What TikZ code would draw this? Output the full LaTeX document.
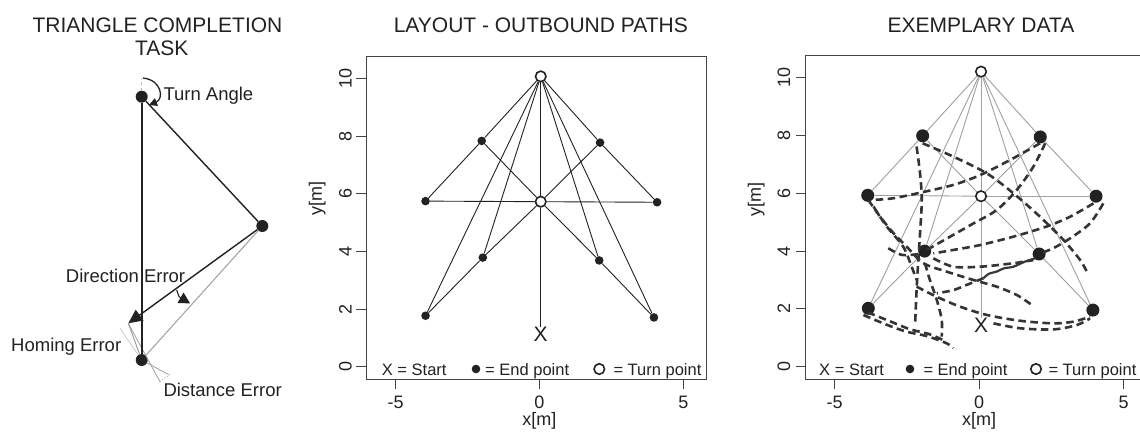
\documentclass[tikz,border=0pt]{standalone}
\usepackage{fontspec}
\setmainfont{Liberation Sans}
\usetikzlibrary{arrows.meta}
\definecolor{ink}{HTML}{222222}
\definecolor{gline}{HTML}{A0A0A0}
\begin{document}
\begin{tikzpicture}[x=1pt,y=-1pt,
  title/.style={font=\fontsize{21}{24}\selectfont, text=ink, inner sep=0pt, anchor=base},
  lbl/.style={font=\fontsize{18.5}{21}\selectfont, text=ink, inner sep=0pt, anchor=base west},
  tickx/.style={font=\fontsize{18}{20}\selectfont, text=ink, inner sep=0pt, anchor=base},
  ticky/.style={font=\fontsize{18}{20}\selectfont, text=ink, inner sep=0pt, anchor=base, rotate=90},
  axtitle/.style={font=\fontsize{18}{20}\selectfont, text=ink, inner sep=0pt},
  leg/.style={font=\fontsize{16.5}{19}\selectfont, text=ink, inner sep=0pt, anchor=base west},
  bigdot/.style={circle, fill=ink, inner sep=0pt, minimum size=12pt},
  enddot/.style={circle, fill=ink, inner sep=0pt, minimum size=8.6pt},
  enddotb/.style={circle, fill=ink, inner sep=0pt, minimum size=13pt},
  turnpt/.style={circle, draw=ink, fill=white, line width=1.6pt, inner sep=0pt, minimum size=10.5pt},
  startx/.style={font=\fontsize{21}{24}\selectfont, text=ink, inner sep=0pt},
  pedge/.style={draw=ink, line width=0.9pt},
  gedge/.style={draw=gline, line width=0.9pt},
  trail/.style={draw=ink!92, line width=2.6pt, dash pattern=on 7.5pt off 4.5pt},
  frame/.style={draw=ink!85, line width=0.9pt},
  tickmark/.style={draw=ink!85, line width=0.9pt},
]
\useasboundingbox (0,0) rectangle (1140,432);
\fill[white] (0,0) rectangle (1140,432);

% ---------------- Panel 1 ----------------
\node[title] (p1t) at (157.5,32.3) {TRIANGLE COMPLETION};
\node[title] (p1t2) at (161.7,55) {TASK};
\node[bigdot] (A) at (141.7,96.7) {};
\node[bigdot] (B) at (262.3,226) {};
\node[bigdot] (C) at (141.7,360) {};
\coordinate (D) at (128.3,323.3);
\coordinate (A0) at (141.7,78);
\coordinate (Dh) at (120,328.3);
\coordinate (Dh2) at (138.3,355);
\coordinate (E1) at (160,381.7);
\coordinate (E2) at (169.3,375);
\draw[gline, line width=1pt] (B) -- (C);
\draw[gline, line width=1pt] (D) -- (C);
\draw[gline!60, line width=0.7pt] (Dh) -- (Dh2);
\draw[gline, line width=0.8pt] (D) -- (E1);
\draw[gline, line width=0.8pt] (C) -- (E2);
\draw[gline, line width=0.8pt, dotted] (E1) -- (E2);
\draw[gline!70, line width=1pt, dashed] (A) -- (A0);
\draw[ink, line width=1.8pt] (A) -- (C);
\draw[ink, line width=1.4pt] (A) -- (B);
\draw[ink, line width=1.4pt, -{Triangle[length=14pt,width=13pt]}] (B) -- (D);
\draw[ink, line width=1.3pt, -{Triangle[length=8pt,width=8pt]}] (143,78) .. controls (162,80) and (164,99) .. (149,105);
\draw[ink, line width=1.1pt, -{Triangle[length=11pt,width=12pt]}] (176.7,290) .. controls (179,297) .. (190,303.3);
\node[lbl] (ta) at (163.3,100.6) {Turn Angle};
\node[lbl] (de) at (65.7,282.7) {Direction Error};
\node[lbl] (he) at (11,351.7) {Homing Error};
\node[lbl] (dse) at (163.3,396.7) {Distance Error};

% ---------------- Panel 2 ----------------
\node[title] (p2t) at (540.8,32.3) {LAYOUT - OUTBOUND PATHS};
\begin{scope}[shift={(539.3pt,-366.7pt)}, x=28.8pt, y=28.8pt]
  \draw[frame] (-6.0,-0.43) rectangle (5.81,10.76);
  \foreach \v in {0,2,4,6,8,10} \draw[tickmark] (-6.0,\v) -- (-6.35,\v);
  \foreach \v in {-5,0,5} \draw[tickmark] (\v,-0.43) -- (\v,-0.76);
  \node[turnpt] (bT1) at (0.05,10.08) {};
  \node[turnpt] (bT2) at (0.05,5.73) {};
  \node[enddot] (b1) at (-2.0,7.84) {};
  \node[enddot] (b2) at (2.11,7.78) {};
  \node[enddot] (b3) at (-3.95,5.75) {};
  \node[enddot] (b4) at (4.09,5.71) {};
  \node[enddot] (b5) at (-1.96,3.79) {};
  \node[enddot] (b6) at (2.08,3.69) {};
  \node[enddot] (b7) at (-3.95,1.77) {};
  \node[enddot] (b8) at (3.98,1.71) {};
  \node[startx] (bX) at (0.05,1.13) {X};
  \draw[pedge] (bT1) -- (b1);
  \draw[pedge] (bT1) -- (b2);
  \draw[pedge] (bT1) -- (b5);
  \draw[pedge] (bT1) -- (b6);
  \draw[pedge] (bT1) -- (b7);
  \draw[pedge] (bT1) -- (b8);
  \draw[pedge, line width=1.5pt] (bT1) -- (bT2);
  \draw[pedge, line width=1.5pt] (bT2) -- (bX);
  \draw[pedge] (b1) -- (b3);
  \draw[pedge] (b2) -- (b4);
  \draw[pedge] (b5) -- (b7);
  \draw[pedge] (b6) -- (b8);
  \draw[pedge] (b3) -- (bT2);
  \draw[pedge] (bT2) -- (b4);
  \draw[pedge] (b1) -- (bT2);
  \draw[pedge] (bT2) -- (b6);
  \draw[pedge] (b2) -- (bT2);
  \draw[pedge] (bT2) -- (b5);
\end{scope}
\foreach \v/\py in {0/366.7,2/309.1,4/251.5,6/193.9,8/136.3,10/78.7}
  \node[ticky] (by\v) at (351.7,\py) {\v};
\node[tickx] (bxm5) at (395.7,408.3) {-5};
\node[tickx] (bx0) at (539.3,408.3) {0};
\node[tickx] (bx5) at (683.3,408.3) {5};
\node[axtitle, rotate=90] (bylab) at (317.3,198.3) {y[m]};
\node[axtitle] (bxlab) at (539.3,420.5) {x[m]};
\node[leg] (bl1) at (381.7,375) {X = Start};
\node[enddot] (bl2) at (476,369) {};
\node[leg] (bl3) at (485,375) {= End point};
\node[turnpt] (bl4) at (599.3,369) {};
\node[leg] (bl5) at (613.3,375) {= Turn point};

% ---------------- Panel 3 ----------------
\node[title] (p3t) at (981,32.3) {EXEMPLARY DATA};
\begin{scope}[shift={(979pt,-366.7pt)}, x=28.9pt, y=28.9pt]
  \draw[frame] (5.7,10.76) -- (-6.0,10.76) -- (-6.0,-0.43) -- (5.7,-0.43);
  \foreach \v in {0,2,4,6,8,10} \draw[tickmark] (-6.0,\v) -- (-6.33,\v);
  \foreach \v in {-5,0,5} \draw[tickmark] (\v,-0.43) -- (\v,-0.76);
  \node[turnpt] (cT1) at (0.07,10.21) {};
  \node[turnpt] (cT2) at (0.07,5.9) {};
  \node[enddotb] (c1) at (-1.95,7.99) {};
  \node[enddotb] (c2) at (2.12,7.95) {};
  \node[enddotb] (c3) at (-3.85,5.93) {};
  \node[enddotb] (c4) at (4.05,5.9) {};
  \node[enddotb] (c5) at (-1.88,4.0) {};
  \node[enddotb] (c6) at (2.08,3.9) {};
  \node[enddotb] (c7) at (-3.83,2.02) {};
  \node[enddotb] (c8) at (3.94,1.96) {};
  \node[startx] (cX) at (0.07,1.42) {X};
  \draw[gedge] (cT1) -- (c1);
  \draw[gedge] (cT1) -- (c2);
  \draw[gedge] (cT1) -- (c5);
  \draw[gedge] (cT1) -- (c6);
  \draw[gedge] (cT1) -- (c7);
  \draw[gedge] (cT1) -- (c8);
  \draw[gedge] (cT1) -- (cT2);
  \draw[gedge] (cT2) -- (cX);
  \draw[gedge] (c1) -- (c3);
  \draw[gedge] (c2) -- (c4);
  \draw[gedge] (c5) -- (c7);
  \draw[gedge] (c6) -- (c8);
  \draw[gedge] (c3) -- (cT2);
  \draw[gedge] (cT2) -- (c4);
  \draw[gedge] (c1) -- (cT2);
  \draw[gedge] (cT2) -- (c6);
  \draw[gedge] (c2) -- (cT2);
  \draw[gedge] (cT2) -- (c5);
  % walked trajectories
  \draw[trail] plot[smooth] coordinates {(-1.95,7.73) (-0.89,7.27) (0.27,6.69) (1.19,6.00) (2.11,5.19) (2.92,4.39) (3.50,3.69) (3.73,3.29)};
  \draw[trail] plot[smooth] coordinates {(-2.16,7.62) (-2.04,6.69) (-1.98,5.77) (-2.04,4.62) (-2.10,3.69) (-2.16,2.65) (-2.21,1.50)};
  \draw[trail] plot[smooth] coordinates {(2.11,7.73) (1.07,7.15) (0.04,6.63) (-0.89,6.29) (-2.04,6.02) (-2.96,5.83) (-3.65,5.77)};
  \draw[trail] plot[smooth] coordinates {(2.29,7.73) (1.88,6.92) (1.31,6.12) (0.61,5.42) (-0.19,4.96) (-1.0,4.50) (-1.81,4.04)};
  \draw[trail] plot[smooth] coordinates {(3.96,5.65) (3.15,5.19) (2.34,4.85) (1.19,4.50) (0.04,4.21) (-0.89,4.04) (-1.58,3.92)};
  \draw[trail] plot[smooth] coordinates {(4.30,5.65) (3.84,4.96) (3.15,4.44) (2.57,4.10) (2.11,3.92)};
  \draw[trail] plot[smooth] coordinates {(-3.83,5.77) (-3.42,5.19) (-2.96,4.62) (-2.50,4.15) (-1.92,3.58) (-1.12,3.29) (-0.19,3.00) (0.61,2.77) (1.31,2.48) (1.82,2.14)};
  \draw[trail] plot[smooth] coordinates {(-3.65,5.54) (-3.19,4.85) (-2.62,4.15) (-2.33,3.46) (-2.16,3.0)};
  \draw[trail] plot[smooth] coordinates {(-3.14,4.10) (-2.67,3.87) (-2.04,3.90)};
  \draw[trail] plot[smooth] coordinates {(-1.58,3.75) (-0.89,3.46) (0.04,3.46) (1.19,3.58) (1.88,3.69)};
  \draw[ink!90, line width=2.2pt] plot[smooth] coordinates {(1.94,3.75) (1.55,3.62) (1.19,3.46) (0.85,3.40) (0.61,3.29) (0.35,3.22) (0.15,3.06)};
  \draw[trail] plot[smooth] coordinates {(0.15,3.06) (-0.43,2.83) (-0.89,2.65) (-1.46,2.54)};
  \draw[trail] plot[smooth] coordinates {(-1.87,3.58) (-1.70,3.0) (-1.46,2.31) (-1.29,1.62) (-1.29,1.04)};
  \draw[trail] plot[smooth] coordinates {(-2.16,2.77) (-1.46,2.42) (-0.66,2.08) (0.27,1.79) (1.42,1.59) (2.57,1.50) (3.27,1.56) (3.84,1.73)};
  \draw[trail] plot[smooth] coordinates {(0.50,1.50) (1.42,1.33) (2.57,1.29) (3.38,1.44) (3.84,1.67)};
  \draw[trail] plot[smooth] coordinates {(-4.0,1.79) (-3.19,1.45) (-2.50,1.21) (-1.81,1.06) (-1.12,0.81) (-0.89,0.64)};
  \draw[trail] plot[smooth] coordinates {(-3.85,1.88) (-3.1,1.58) (-2.4,1.30) (-1.7,1.12) (-1.2,0.90)};
\end{scope}
\foreach \v/\py in {0/366.7,2/308.9,4/251.1,6/193.3,8/135.5,10/77.7}
  \node[ticky] (cy\v) at (790,\py) {\v};
\node[tickx] (cxm5) at (834.5,408.3) {-5};
\node[tickx] (cx0) at (979,408.3) {0};
\node[tickx] (cx5) at (1123.5,408.3) {5};
\node[axtitle, rotate=90] (cylab) at (756.3,199.3) {y[m]};
\node[axtitle] (cxlab) at (979,420.5) {x[m]};
\node[leg] (cl1) at (819,375) {X = Start};
\node[enddot] (cl2) at (910,369) {};
\node[leg] (cl3) at (923.3,375) {= End point};
\node[turnpt] (cl4) at (1036,369) {};
\node[leg] (cl5) at (1048.3,375) {= Turn point};
\end{tikzpicture}
\end{document}
